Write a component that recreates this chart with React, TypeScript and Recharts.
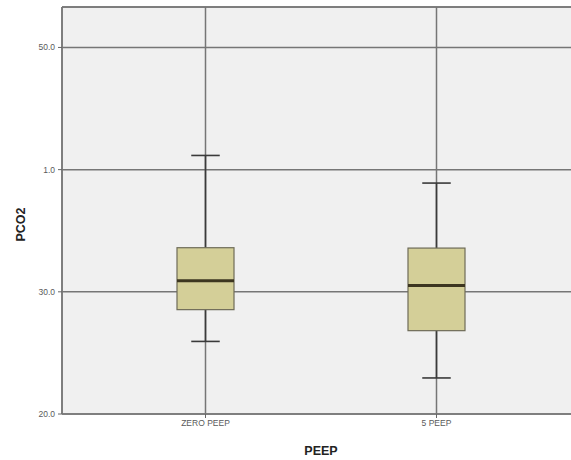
import { ComposedChart, Bar, XAxis, YAxis, CartesianGrid, ReferenceLine, Label } from "recharts";

const groups = ["ZERO PEEP", "5 PEEP"];
const whiskerLow = [25.94, 22.95];
const quartile1 = [28.54, 26.82];
const medians = [30.91, 30.52];
const quartile3 = [33.61, 33.58];
const whiskerHigh = [41.16, 38.9];

const yTicks = [20, 30, 40, 50];
const yTickLabels: Record<number, string> = { 20: "20.0", 30: "30.0", 40: "1.0", 50: "50.0" };
const Y_MIN = 20;
const Y_MAX = 53.31;

const rows = groups.map((name, i) => ({
  name,
  min: whiskerLow[i],
  q1: quartile1[i],
  median: medians[i],
  q3: quartile3[i],
  max: whiskerHigh[i],
  range: [whiskerLow[i], whiskerHigh[i]],
}));

const tickFont = { fontFamily: "Liberation Sans, Arial, sans-serif", fontSize: 8.5, fill: "#5a5a5a" };

function BoxShape(props: any) {
  const { x, y, width, height, payload } = props;
  const { min, q1, median, q3, max } = payload;
  // pixel position from the bar's [min, max] extent
  const py = (v: number) => y + ((max - v) / (max - min)) * height;
  const cx = x + width / 2;
  const cap = width / 2;
  return (
    <g>
      <line x1={cx} x2={cx} y1={py(max)} y2={py(q3)} stroke="#3a3a3a" strokeWidth={1.6} />
      <line x1={cx} x2={cx} y1={py(q1)} y2={py(min)} stroke="#3a3a3a" strokeWidth={1.6} />
      <line x1={cx - cap / 2} x2={cx + cap / 2} y1={py(max)} y2={py(max)} stroke="#3a3a3a" strokeWidth={1.6} />
      <line x1={cx - cap / 2} x2={cx + cap / 2} y1={py(min)} y2={py(min)} stroke="#3a3a3a" strokeWidth={1.6} />
      <rect x={x} y={py(q3)} width={width} height={py(q1) - py(q3)} fill="#d4cf98" stroke="#6e6b58" strokeWidth={1.2} />
      <line x1={x} x2={x + width} y1={py(median)} y2={py(median)} stroke="#3d3620" strokeWidth={3} />
    </g>
  );
}

export default function App() {
  return (
    <div style={{ position: "absolute", left: 0, top: 0, width: 571, height: 460, overflow: "hidden", background: "#fff" }}>
      <ComposedChart width={580} height={460} data={rows} margin={{ top: 7, right: 0, bottom: 0, left: 0 }}>
        <CartesianGrid fill="#f0f0f0" stroke="#767676" strokeWidth={1.5} strokeDasharray="" />
        <XAxis
          dataKey="name"
          height={46}
          padding={{ left: 28, right: 28 }}
          tick={tickFont}
          tickSize={4}
          tickLine={{ stroke: "#666" }}
          axisLine={{ stroke: "#777", strokeWidth: 1.5 }}
        >
          <Label
            content={({ viewBox }: any) => (
              <text
                x={viewBox.x + viewBox.width / 2}
                y={viewBox.y + 41}
                textAnchor="middle"
                fontFamily="Liberation Sans, Arial, sans-serif"
                fontWeight="bold"
                fontSize={12.5}
                fill="#222"
              >
                PEEP
              </text>
            )}
          />
        </XAxis>
        <YAxis
          type="number"
          domain={[Y_MIN, Y_MAX]}
          ticks={yTicks}
          allowDataOverflow
          width={62}
          tick={tickFont}
          tickSize={4}
          tickMargin={3}
          tickLine={{ stroke: "#666" }}
          axisLine={{ stroke: "#777", strokeWidth: 1.5 }}
          tickFormatter={(v: number) => yTickLabels[v] ?? String(v)}
        >
          <Label
            content={({ viewBox }: any) => {
              const lx = viewBox.x + 21;
              const ly = viewBox.y + viewBox.height / 2 + 14;
              return (
                <text
                  x={lx}
                  y={ly}
                  transform={`rotate(-90 ${lx} ${ly})`}
                  textAnchor="middle"
                  dominantBaseline="central"
                  fontFamily="Liberation Sans, Arial, sans-serif"
                  fontWeight="bold"
                  fontSize={12.5}
                  fill="#222"
                >
                  PCO2
                </text>
              );
            }}
          />
        </YAxis>
        <ReferenceLine y={Y_MAX} stroke="#767676" strokeWidth={1.5} />
        <Bar dataKey="range" barSize={57} shape={BoxShape} isAnimationActive={false} />
      </ComposedChart>
    </div>
  );
}
